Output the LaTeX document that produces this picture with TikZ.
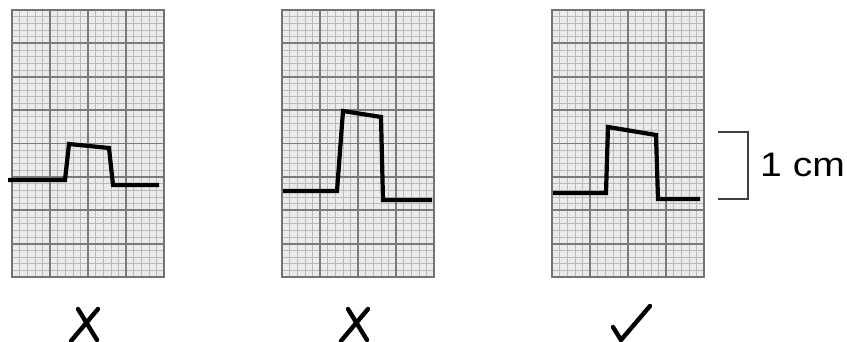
\documentclass[tikz,border=0pt]{standalone}
\usepackage{fontspec}
\setmainfont{Liberation Sans}
\begin{document}
\begin{tikzpicture}[x=1pt,y=-1pt,
  minorline/.style={draw=black!27,line width=0.6pt},
  majorline/.style={draw=black!52,line width=1.9pt},
  frameline/.style={draw=black!55,line width=2pt},
  gridfill/.style={fill=black!8},
  trace/.style={draw=black,line width=4.2pt,line join=miter},
  markstroke/.style={draw=black,line width=4.4pt,line cap=round},
  bracket/.style={draw=black!75,line width=1.9pt},
  cmlabel/.style={font=\fontsize{34}{40}\selectfont,inner sep=0pt,xscale=1.15}]
\useasboundingbox (0,0) rectangle (847,342);
% grids
\foreach \xo in {12,282,552}{
  \fill[gridfill] (\xo,10) rectangle ++(152,267);
  \foreach \i in {1,...,19} \draw[minorline] ({\xo+\i*7.6},10) -- ++(0,267);
  \foreach \j in {1,...,39} \draw[minorline] (\xo,{10+\j*6.675}) -- ++(152,0);
  \foreach \i in {1,2,3} \draw[majorline] ({\xo+\i*38},10) -- ++(0,267);
  \foreach \j in {1,...,7} \draw[majorline] (\xo,{10+\j*33.375}) -- ++(152,0);
  \draw[frameline] (\xo,10) rectangle ++(152,267);
}
% traces
\draw[trace] (8,180) -- (65,180) -- (69,144) -- (109,148) -- (113,185) -- (159,185);
\draw[trace] (283,191) -- (337,191) -- (343,111) -- (381,117) -- (383,200) -- (432,200);
\draw[trace] (553,193) -- (606,193) -- (608,127) -- (656,135) -- (658,199) -- (700,199);
% bracket and label
\draw[bracket] (718,132) -- (748,132) -- (748,199) -- (718,199);
\node[cmlabel,anchor=base west] (cm) at (760,177) {1 cm};
% marks
\draw[markstroke] (78,309) -- (97,340);
\draw[markstroke] (98,309) -- (71,341);
\draw[markstroke] (348,309) -- (367,340);
\draw[markstroke] (368,309) -- (341,341);
\draw[markstroke] (613,327) -- (621,340) -- (650,306);
\end{tikzpicture}
\end{document}
